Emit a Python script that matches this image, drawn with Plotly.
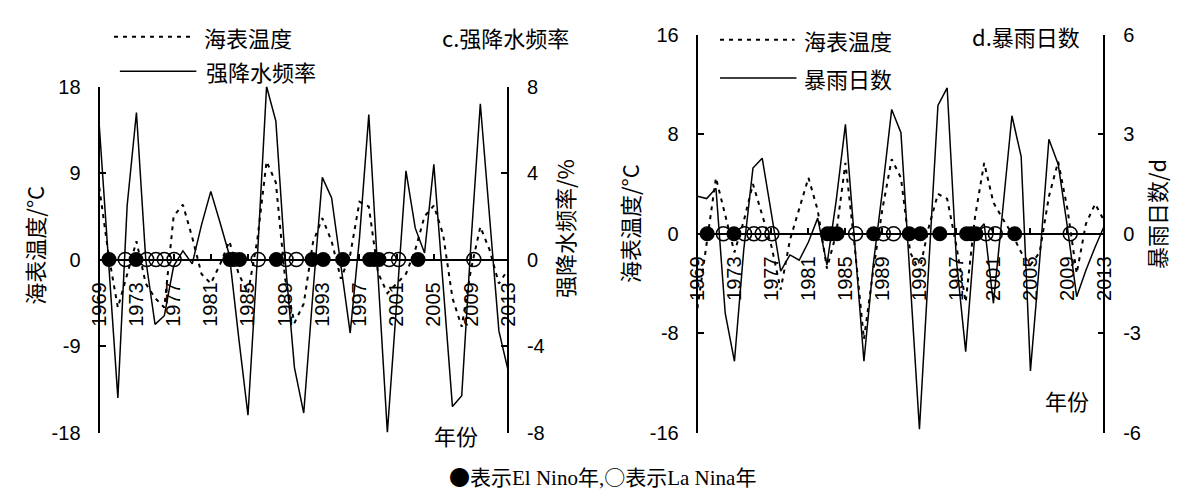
import plotly.graph_objects as go

# ---------------- data ----------------
years = list(range(1969, 2014))
xtick_years = list(range(1969, 2014, 4))

# panel c
sst_c = [7.5, 0.5, -5.0, -1.5, 1.9, -2.5, -4.0, -5.0, 4.5, 5.7,
         2.3, -1.5, -2.5, -0.5, 1.9, -1.5, -3.5, 2.0, 10.2, 8.0,
         -2.0, -6.6, -4.6, 1.8, 4.3, 1.9, -2.0, 0.5, 6.0, 5.5,
         -1.4, -3.5, -2.5, -1.5, 1.0, 4.5, 5.6, 2.6, -4.0, -7.0,
         -1.0, 3.4, 1.0, -2.5, -1.0]
heavy_freq = [6.2, -0.3, -6.4, 2.5, 6.8, 0.0, -3.0, -2.6, -0.3, 0.4,
              -0.2, 1.6, 3.15, 1.7, 0.2, -3.6, -7.2, 0.0, 8.0, 6.4,
              0.0, -5.0, -7.1, -1.5, 3.8, 2.85, -0.3, -3.4, 1.0, 6.7,
              -0.8, -8.0, -2.0, 4.1, 1.45, 0.3, 4.4, -1.2, -6.8, -6.3,
              0.8, 7.2, 2.0, -3.3, -5.15]

# panel d
sst_d = [-6.0, -0.8, 4.5, 1.5, -1.5, 1.0, 4.0, 1.5, -1.0, -4.5,
         -0.5, 2.0, 4.5, 1.9, -2.8, 0.0, 5.7, -1.0, -8.5, -3.0,
         2.0, 6.0, 4.5, -1.5, -3.0, 0.5, 3.2, 2.8, -1.0, -5.5,
         1.3, 5.7, 2.5, 1.2, 0.0, -1.5, -2.5, -1.5, 3.0, 5.8,
         2.0, -3.2, 0.8, 2.4, 1.0]
storm_days = [1.13, 1.06, 1.37, -2.4, -3.85, -0.5, 1.98, 2.28, 0.6, -1.13,
              -0.64, -0.8, -0.25, 0.47, -0.94, 1.0, 3.3, -0.3, -3.85, -0.95,
              1.3, 3.75, 3.05, -1.4, -5.9, -1.0, 3.87, 4.4, -0.8, -3.56,
              0.0, 0.3, -2.1, 0.7, 3.56, 2.33, -4.14, -0.8, 2.85, 2.1,
              0.2, -1.9, -1.1, -0.4, 0.25]

# ENSO years (positions)
el_nino = [1970.05, 1972.95, 1983.05, 1983.5, 1984.1, 1988.05, 1991.9,
           1993.1, 1995.2, 1998.1, 1998.6, 1999.1, 2003.3]
la_nina = [1971.8, 1974.1, 1975.1, 1976.0, 1977.05, 1986.1, 1989.1,
           1990.2, 2000.2, 2001.2, 2009.3]

# axis tick values
ticks_c_left = [-18, -9, 0, 9, 18]
ticks_c_right = [-8, -4, 0, 4, 8]
ticks_d_left = [-16, -8, 0, 8, 16]
ticks_d_right = [-6, -3, 0, 3, 6]

# ---------------- layout helpers ----------------
W, H = 1187, 498
def px(x):
    return x / W
def py(y):
    return 1 - y / H

FONT = "Liberation Sans, Arial, Noto Sans CJK SC"
CJK = "Noto Sans CJK SC, Liberation Sans"
SERIF = "Liberation Serif, Times New Roman, Noto Sans CJK SC"
FS = 20
CFS = 22

panels = [
    dict(xd=(89, 506), yd=(79, 441), sst=sst_c, prec=heavy_freq,
         ltick=ticks_c_left, rtick=ticks_c_right, xa="x", ya="y", ya2="y2"),
    dict(xd=(699, 1114), yd=(25, 441), sst=sst_d, prec=storm_days,
         ltick=ticks_d_left, rtick=ticks_d_right, xa="x2", ya="y3", ya2="y4"),
]

fig = go.Figure()

for p in panels:
    fig.add_trace(go.Scatter(x=years, y=p["sst"], mode="lines", xaxis=p["xa"], yaxis=p["ya"],
                             line=dict(color="black", width=2, dash="4px,5px"), showlegend=False))
    fig.add_trace(go.Scatter(x=years, y=p["prec"], mode="lines", xaxis=p["xa"], yaxis=p["ya2"],
                             line=dict(color="black", width=1.5), showlegend=False))
    fig.add_trace(go.Scatter(x=la_nina, y=[0] * len(la_nina), mode="markers", xaxis=p["xa"], yaxis=p["ya"],
                             marker=dict(symbol="circle-open", size=14, color="black", line=dict(width=1.5)),
                             showlegend=False))
    fig.add_trace(go.Scatter(x=el_nino, y=[0] * len(el_nino), mode="markers", xaxis=p["xa"], yaxis=p["ya"],
                             marker=dict(symbol="circle", size=15, color="black"), showlegend=False))

layout = dict(width=W, height=H, margin=dict(l=0, r=0, t=0, b=0),
              paper_bgcolor="white", plot_bgcolor="white",
              font=dict(family=FONT, size=FS, color="black"), showlegend=False)

axis_common = dict(showgrid=False, zeroline=False, showline=True, linecolor="black", linewidth=1.5,
                   ticks="inside", ticklen=6, tickwidth=1.5, tickcolor="black",
                   tickfont=dict(family=FONT, size=FS, color="black"))

for k, p in enumerate(panels):
    xdom = [px(p["xd"][0]), px(p["xd"][1])]
    ydom = [py(p["yd"][1]), py(p["yd"][0])]
    zero_pos = ydom[0] + 0.5 * (ydom[1] - ydom[0])
    xname = "xaxis" if k == 0 else "xaxis2"
    yname = "yaxis" if k == 0 else "yaxis3"
    y2name = "yaxis2" if k == 0 else "yaxis4"
    lt, rt = p["ltick"], p["rtick"]
    layout[xname] = dict(axis_common, domain=xdom, range=[years[0], years[-1]], anchor="free",
                         position=zero_pos, tickvals=xtick_years, tickangle=-90, ticklen=5,
                         ticklabelstandoff=14)
    layout[yname] = dict(axis_common, domain=ydom, range=[lt[0], lt[-1]],
                         tickvals=lt, ticktext=[str(v) for v in lt],
                         anchor="free", position=xdom[0], side="left", ticklabelstandoff=14)
    layout[y2name] = dict(axis_common, domain=ydom, range=[rt[0], rt[-1]],
                          tickvals=rt, ticktext=[str(v) for v in rt],
                          anchor="free", position=xdom[1], side="right",
                          overlaying=("y" if k == 0 else "y3"), ticklabelstandoff=14)

fig.update_layout(**layout)

# legend samples and texts
shapes = []
annotations = []
def line_shape(x0, x1, y, dash):
    return dict(type="line", xref="paper", yref="paper", x0=px(x0), x1=px(x1), y0=py(y), y1=py(y),
                line=dict(color="black", width=2 if dash else 1.5, dash=("4px,5px" if dash else "solid")))
def text(x, y, s, xanchor="left", angle=0, font=CJK, size=CFS):
    return dict(xref="paper", yref="paper", x=px(x), y=py(y), text=s, showarrow=False,
                xanchor=xanchor, yanchor="middle", textangle=angle,
                font=dict(family=font, size=size, color="black"))

# panel c
shapes.append(line_shape(104, 182, 27, True))
annotations.append(text(194, 27, "海表温度"))
shapes.append(line_shape(110, 188, 63, False))
annotations.append(text(196, 63, "强降水频率"))
annotations.append(text(570, 27, "c.强降水频率", xanchor="right"))
annotations.append(text(23, 245, "海表温度/°C", xanchor="center", angle=-90))
annotations.append(text(563, 228, "强降水频率/%", xanchor="center", angle=-90))
annotations.append(text(453, 444, "年份", xanchor="center"))

# panel d
shapes.append(line_shape(722, 798, 30, True))
annotations.append(text(806, 30, "海表温度"))
shapes.append(line_shape(722, 800, 70, False))
annotations.append(text(806, 70, "暴雨日数"))
annotations.append(text(1091, 26, "d.暴雨日数", xanchor="right"))
annotations.append(text(629, 222, "海表温度/°C", xanchor="center", angle=-90))
annotations.append(text(1166, 212, "暴雨日数/d", xanchor="center", angle=-90))
annotations.append(text(1076, 407, "年份", xanchor="center"))

# caption
cap = ('<span style="font-family:Noto Sans CJK SC">●</span>表示El Nino年,'
       '<span style="font-family:Noto Sans CJK SC">○</span>表示La Nina年')
annotations.append(text(602, 487, cap, xanchor="center", font=SERIF, size=21))

fig.update_layout(shapes=shapes, annotations=annotations)

fig.write_html("out.html", config={"displayModeBar": False},
               post_script="document.body.style.margin='0';")
